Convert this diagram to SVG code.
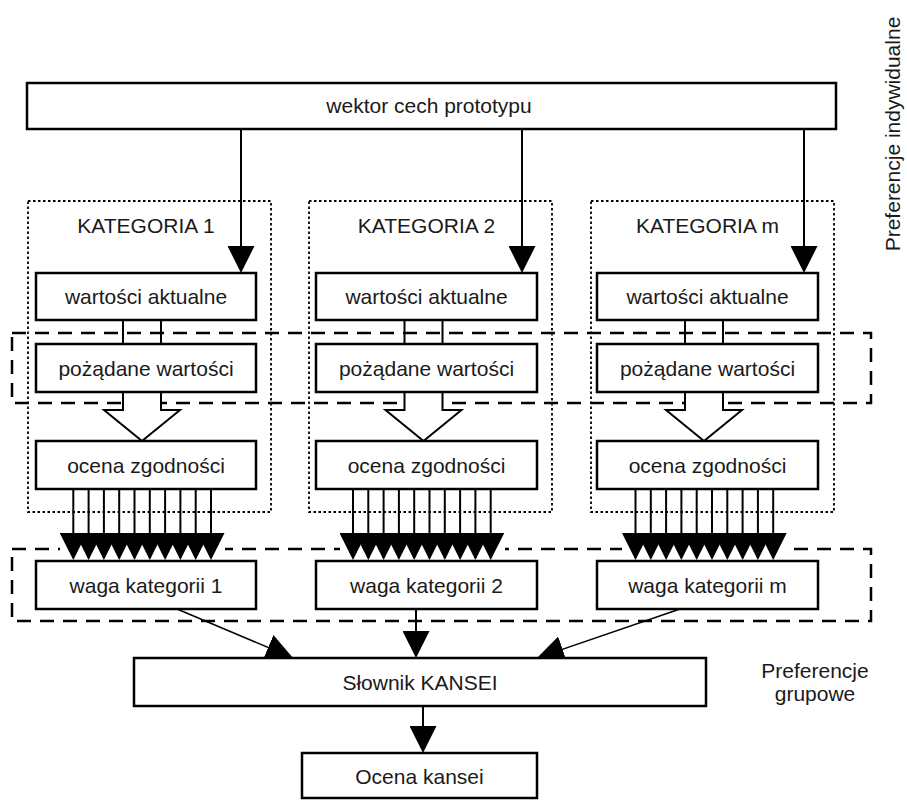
<svg xmlns="http://www.w3.org/2000/svg" width="907" height="800" viewBox="0 0 907 800">
<defs>
<style>
text{font-family:"Liberation Sans",Arial,sans-serif;font-size:21px;fill:#1a1a1a;text-anchor:middle}
.box{fill:#fff;stroke:#000;stroke-width:2.5}
.dot{fill:none;stroke:#000;stroke-width:1.8;stroke-dasharray:2.5 2.5}
.dash{fill:none;stroke:#000;stroke-width:2.5;stroke-dasharray:14 9}
.ln{stroke:#000;stroke-width:2;fill:none}
.thin{stroke:#000;stroke-width:1.5;fill:none}
.hollow{fill:#fff;stroke:#000;stroke-width:2}
</style>
<marker id="arr" markerUnits="userSpaceOnUse" markerWidth="27" markerHeight="27" viewBox="0 0 27 27" refX="25" refY="13.5" orient="auto"><path d="M0,0 L27,13.5 L0,27 z" fill="#000"/></marker>
</defs>
<rect width="907" height="800" fill="#fff"/>

<g id="groups">
<rect class="dash" x="12" y="333" width="859" height="70"/>
<rect class="dash" x="12" y="549" width="859" height="72"/>
<rect class="dot" x="28" y="201" width="243" height="311"/>
<rect class="dot" x="309" y="201" width="243" height="311"/>
<rect class="dot" x="591" y="201" width="243" height="311"/>
</g>

<g id="connectors">
<line class="ln" x1="241" y1="129" x2="241" y2="271" marker-end="url(#arr)"/>
<line class="ln" x1="522" y1="129" x2="522" y2="271" marker-end="url(#arr)"/>
<line class="ln" x1="804" y1="129" x2="804" y2="271" marker-end="url(#arr)"/>
<g class="ln">
<line x1="123" y1="320" x2="123" y2="344"/><line x1="161" y1="320" x2="161" y2="344"/>
<line x1="404.5" y1="320" x2="404.5" y2="344"/><line x1="442.5" y1="320" x2="442.5" y2="344"/>
<line x1="685" y1="320" x2="685" y2="344"/><line x1="723" y1="320" x2="723" y2="344"/>
</g>
<polygon class="hollow" points="123,392 123,410 104,410 142,441 180,410 161,410 161,392"/>
<polygon class="hollow" points="404.5,392 404.5,410 385.5,410 423.5,441 461.5,410 442.5,410 442.5,392"/>
<polygon class="hollow" points="685,392 685,410 666,410 704,441 742,410 723,410 723,392"/>
<rect x="60" y="533" width="165" height="27" fill="#fff"/>
<rect x="340" y="533" width="165" height="27" fill="#fff"/>
<rect x="622" y="533" width="165" height="27" fill="#fff"/>
<g class="ln">
<line x1="73.3" y1="489" x2="73.3" y2="558" marker-end="url(#arr)"/>
<line x1="88.6" y1="489" x2="88.6" y2="558" marker-end="url(#arr)"/>
<line x1="103.9" y1="489" x2="103.9" y2="558" marker-end="url(#arr)"/>
<line x1="119.2" y1="489" x2="119.2" y2="558" marker-end="url(#arr)"/>
<line x1="134.5" y1="489" x2="134.5" y2="558" marker-end="url(#arr)"/>
<line x1="149.8" y1="489" x2="149.8" y2="558" marker-end="url(#arr)"/>
<line x1="165.1" y1="489" x2="165.1" y2="558" marker-end="url(#arr)"/>
<line x1="180.4" y1="489" x2="180.4" y2="558" marker-end="url(#arr)"/>
<line x1="195.7" y1="489" x2="195.7" y2="558" marker-end="url(#arr)"/>
<line x1="211" y1="489" x2="211" y2="558" marker-end="url(#arr)"/>

<line x1="353" y1="489" x2="353" y2="558" marker-end="url(#arr)"/>
<line x1="368.3" y1="489" x2="368.3" y2="558" marker-end="url(#arr)"/>
<line x1="383.6" y1="489" x2="383.6" y2="558" marker-end="url(#arr)"/>
<line x1="398.9" y1="489" x2="398.9" y2="558" marker-end="url(#arr)"/>
<line x1="414.2" y1="489" x2="414.2" y2="558" marker-end="url(#arr)"/>
<line x1="429.5" y1="489" x2="429.5" y2="558" marker-end="url(#arr)"/>
<line x1="444.8" y1="489" x2="444.8" y2="558" marker-end="url(#arr)"/>
<line x1="460.1" y1="489" x2="460.1" y2="558" marker-end="url(#arr)"/>
<line x1="475.4" y1="489" x2="475.4" y2="558" marker-end="url(#arr)"/>
<line x1="490.7" y1="489" x2="490.7" y2="558" marker-end="url(#arr)"/>

<line x1="635.5" y1="489" x2="635.5" y2="558" marker-end="url(#arr)"/>
<line x1="650.8" y1="489" x2="650.8" y2="558" marker-end="url(#arr)"/>
<line x1="666.1" y1="489" x2="666.1" y2="558" marker-end="url(#arr)"/>
<line x1="681.4" y1="489" x2="681.4" y2="558" marker-end="url(#arr)"/>
<line x1="696.7" y1="489" x2="696.7" y2="558" marker-end="url(#arr)"/>
<line x1="712" y1="489" x2="712" y2="558" marker-end="url(#arr)"/>
<line x1="727.3" y1="489" x2="727.3" y2="558" marker-end="url(#arr)"/>
<line x1="742.6" y1="489" x2="742.6" y2="558" marker-end="url(#arr)"/>
<line x1="757.9" y1="489" x2="757.9" y2="558" marker-end="url(#arr)"/>
<line x1="773.2" y1="489" x2="773.2" y2="558" marker-end="url(#arr)"/>
</g>
<line class="thin" x1="177" y1="609" x2="291.2" y2="657.2" marker-end="url(#arr)"/>
<line class="ln" x1="416" y1="609" x2="416" y2="656" marker-end="url(#arr)"/>
<line class="thin" x1="680" y1="609" x2="538.9" y2="657.4" marker-end="url(#arr)"/>
<line class="ln" x1="423" y1="706" x2="423" y2="751" marker-end="url(#arr)"/>
</g>

<g id="n-wektor"><rect class="box" x="27" y="83" width="809" height="46"/><text x="429" y="113">wektor cech prototypu</text></g>

<g id="n-kat1-label"><text x="146" y="233">KATEGORIA 1</text></g>
<g id="n-kat2-label"><text x="426.5" y="233">KATEGORIA 2</text></g>
<g id="n-katm-label"><text x="707.5" y="233">KATEGORIA m</text></g>

<g id="n-akt1"><rect class="box" x="36" y="273" width="220" height="47"/><text x="146" y="304">wartości aktualne</text></g>
<g id="n-akt2"><rect class="box" x="316" y="273" width="221" height="47"/><text x="426.5" y="304">wartości aktualne</text></g>
<g id="n-aktm"><rect class="box" x="597" y="273" width="221" height="47"/><text x="707.5" y="304">wartości aktualne</text></g>

<g id="n-poz1"><rect class="box" x="36" y="344" width="220" height="48"/><text x="146" y="376">pożądane wartości</text></g>
<g id="n-poz2"><rect class="box" x="316" y="344" width="221" height="48"/><text x="426.5" y="376">pożądane wartości</text></g>
<g id="n-pozm"><rect class="box" x="597" y="344" width="221" height="48"/><text x="707.5" y="376">pożądane wartości</text></g>

<g id="n-oc1"><rect class="box" x="36" y="441" width="220" height="48"/><text x="146" y="473">ocena zgodności</text></g>
<g id="n-oc2"><rect class="box" x="316" y="441" width="221" height="48"/><text x="426.5" y="473">ocena zgodności</text></g>
<g id="n-ocm"><rect class="box" x="597" y="441" width="221" height="48"/><text x="707.5" y="473">ocena zgodności</text></g>

<g id="n-waga1"><rect class="box" x="36" y="561" width="220" height="48"/><text x="146" y="593">waga kategorii 1</text></g>
<g id="n-waga2"><rect class="box" x="316" y="561" width="221" height="48"/><text x="426.5" y="593">waga kategorii 2</text></g>
<g id="n-wagam"><rect class="box" x="597" y="561" width="221" height="48"/><text x="707.5" y="593">waga kategorii m</text></g>

<g id="n-slownik"><rect class="box" x="134" y="658" width="572" height="48"/><text x="420" y="690">Słownik KANSEI</text></g>
<g id="n-ocena"><rect class="box" x="302" y="753" width="235" height="45"/><text x="419.5" y="784">Ocena kansei</text></g>

<g id="l-grupowe"><text x="815" y="678">Preferencje</text><text x="815" y="701">grupowe</text></g>
<g id="l-indyw"><text transform="translate(900,134) rotate(-90)" x="0" y="0">Preferencje indywidualne</text></g>
</svg>
